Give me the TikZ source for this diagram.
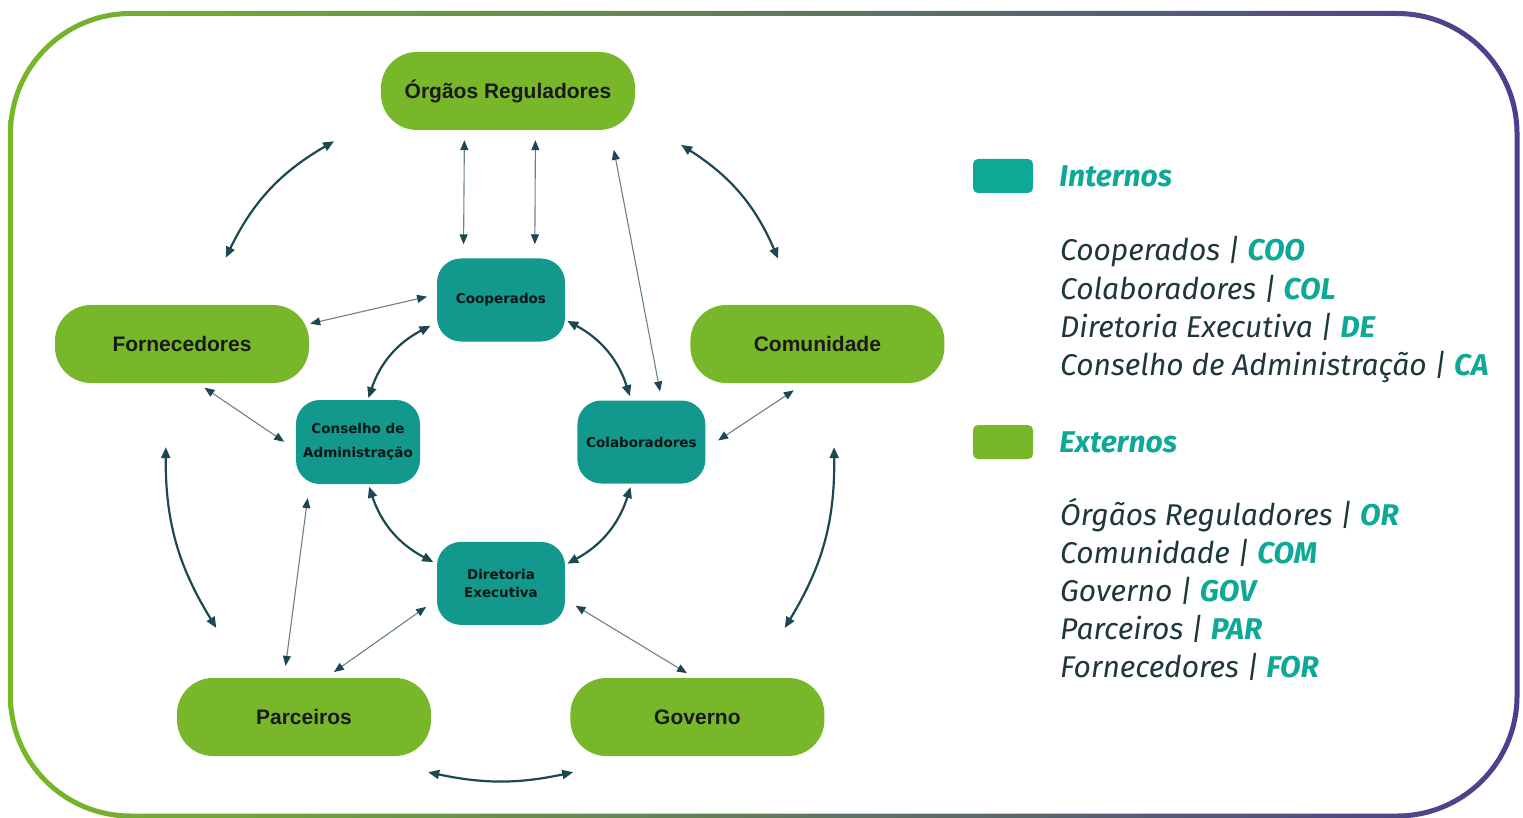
\documentclass[tikz,border=0pt]{standalone}
\usepackage{fontspec}
\setmainfont{Liberation Sans}
\newfontfamily\intfont{DejaVu Sans}
\newfontfamily\legendfont{Fira Sans}
\usetikzlibrary{arrows.meta,positioning,calc}

\definecolor{extgreen}{RGB}{120,183,41}
\definecolor{intteal}{RGB}{18,152,140}
\definecolor{legteal}{RGB}{14,168,150}
\definecolor{arrowdark}{RGB}{28,72,82}
\definecolor{thingray}{RGB}{105,130,138}
\definecolor{framepurple}{RGB}{74,63,143}
\definecolor{legtext}{RGB}{30,55,60}

\begin{document}
\begin{tikzpicture}[x=1pt,y=1pt,
      extnode/.style={
         rectangle,
         rounded corners=36pt,
         fill=extgreen,
         minimum width=254pt,
         minimum height=78pt,
         inner sep=0pt,
         text=black!90,
         font=\bfseries\fontsize{21}{24}\selectfont},
      intnode/.style={
         rectangle,
         rounded corners=24pt,
         fill=intteal,
         minimum width=128pt,
         minimum height=83pt,
         inner sep=0pt,
         align=center,
         text=black!85!intteal,
         font=\intfont\bfseries\fontsize{13.5}{18}\selectfont},
      myarrow/.style={{Triangle[length=11pt,width=9pt]}-{Triangle[length=11pt,width=9pt]},
         line width=2.2pt, draw=arrowdark},
      thinarrow/.style={{Triangle[length=10pt,width=8pt,color=arrowdark]}-{Triangle[length=10pt,width=8pt,color=arrowdark]},
         line width=1.1pt, draw=thingray},
      legbox/.style={rectangle, rounded corners=5pt, minimum width=60pt, minimum height=34pt, inner sep=0pt},
      legtitle/.style={inner sep=0pt, text=legteal, font=\legendfont\bfseries\itshape\fontsize{30}{36}\selectfont},
      legitem/.style={anchor=base west, inner sep=0pt, text=legtext, font=\legendfont\itshape\fontsize{30}{36}\selectfont}
      ]
      \useasboundingbox (0,0) rectangle (1523,-818);

      % frame
      \shade[left color=extgreen, right color=framepurple, even odd rule]
         [rounded corners=122.5pt] (8,-11) rectangle (1519.5,-818.5)
         [rounded corners=117.5pt] (13,-16) rectangle (1514.5,-813.5);

      % external stakeholders
      \node[extnode] (or) at (508,-91) {Órgãos Reguladores};
      \node[extnode] (fo) at (182,-344) {Fornecedores};
      \node[extnode,right=381pt of fo] (com) {Comunidade};
      \node[extnode] (par) at (304,-717) {Parceiros};
      \node[extnode,right=139pt of par] (gov) {Governo};

      % internal stakeholders
      \node[intnode] (coo) at (501,-300) {Cooperados};
      \node[intnode,minimum width=124pt,minimum height=84pt] (ca) at (358,-442) {Conselho de\\[6pt]Administração};
      \node[intnode,right=157pt of ca] (col) {Colaboradores};
      \node[intnode,below=200pt of coo] (de) {Diretoria\\Executiva};

    \foreach \i/\j/\b/\s/\e in {% start/end/bend/from/to
      or.180/fo.90/-17/0.235/0.78,
      or.0/com.90/17/0.252/0.785,
      fo.-131/par.152/-16/0.217/0.831,
      com.-49/gov.28/16/0.217/0.831,
      coo.-164/ca.78/-22/0.09/0.98,
      coo.-16/col.101/22/0.03/0.95,
      ca.-78/de.165/-22/0.03/0.95,
      col.-101/de.15/22/0.04/0.97}
       \draw [myarrow] ($(\i)!\s!(\j)$) to[bend left=\b] ($(\i)!\e!(\j)$);

    \draw [myarrow] ([shift={(-3pt,-16pt)}]par.south east) to[bend right=12] ([shift={(3pt,-16pt)}]gov.south west);

    \foreach \i/\j/\s/\e in {% start/end/shorten start/shorten end
      or.-138/coo.132/10/14,
      or.-55/coo.51/10/14,
      or.-21/col.64/20/9,
      fo.9/coo.175/1/10,
      fo.-68/ca.187/8/14,
      com.-108/col.-6/13/15,
      ca.-139/par.117/14/12,
      de.-166/par.61/13/10,
      de.-14/gov.94/12/9}
       \draw [thinarrow, shorten <=\s pt, shorten >=\e pt] (\i) -- (\j);

      % legend
      \node[legbox,fill=legteal] (intbox) at (1003,-176) {};
      \node[legtitle,right=26pt of intbox] (inttitle) {Internos};
    \foreach \t/\a [count=\k] in {Cooperados/COO, Colaboradores/COL, Diretoria Executiva/DE, Conselho de Administração/CA}
       \node[legitem] (int\k) at (1060,{-261-38*(\k-1)}) {\t{} | \textcolor{legteal}{\bfseries\a}};

      \node[legbox,fill=extgreen] (extbox) at (1003,-442) {};
      \node[legtitle,right=26pt of extbox] (exttitle) {Externos};
    \foreach \t/\a [count=\k] in {Órgãos Reguladores/OR, Comunidade/COM, Governo/GOV, Parceiros/PAR, Fornecedores/FOR}
       \node[legitem] (ext\k) at (1060,{-525-38*(\k-1)}) {\t{} | \textcolor{legteal}{\bfseries\a}};

    \end{tikzpicture}
\end{document}
